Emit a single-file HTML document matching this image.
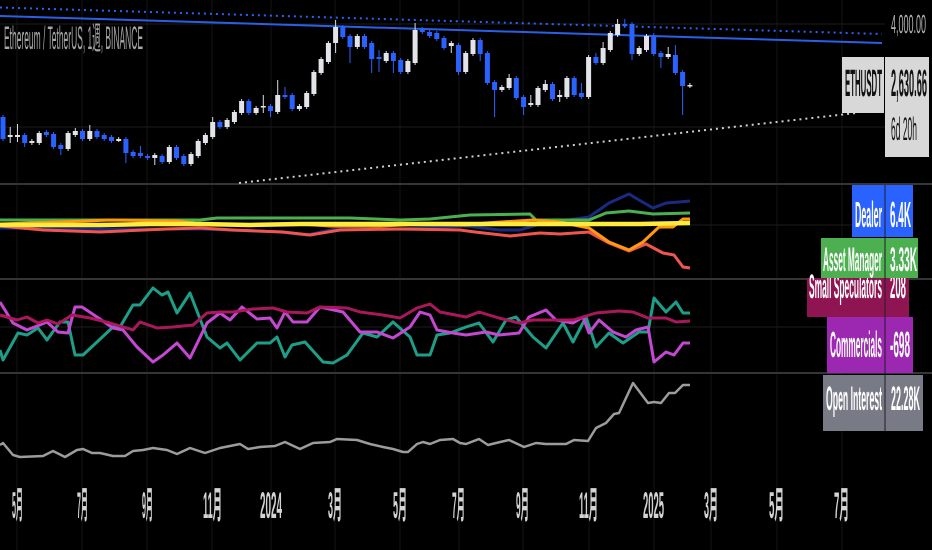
<!DOCTYPE html>
<html><head><meta charset="utf-8"><style>
html,body{margin:0;padding:0;background:#000;}
svg{display:block;}
text{font-family:"Liberation Sans","Noto Sans CJK JP",sans-serif;}
</style></head><body>
<svg width="932" height="550" viewBox="0 0 932 550" xmlns="http://www.w3.org/2000/svg">
<rect width="932" height="550" fill="#000"/>
<!-- grid -->
<g stroke="#151515" stroke-width="1">
<path d="M17 0V550M82 0V550M147 0V550M212 0V550M271 0V550M335 0V550M400 0V550M459 0V550M523 0V550M589 0V550M654 0V550M711 0V550M777 0V550M842 0V550"/>
</g>
<g stroke="#1c1c1c" stroke-width="1">
<path d="M0 24H885M0 127H885M0 225H885M0 327H885"/>
</g>
<!-- separators -->
<rect x="0" y="183" width="932" height="2" fill="#353535"/>
<rect x="0" y="278" width="932" height="2" fill="#353535"/>
<rect x="0" y="372" width="932" height="2" fill="#353535"/>

<!-- trend lines -->
<line x1="0" y1="7.5" x2="882" y2="34" stroke="#2962ff" stroke-width="2" stroke-dasharray="2 4"/>
<line x1="0" y1="16" x2="882" y2="43" stroke="#2a5fe8" stroke-width="2"/>
<line x1="239" y1="183" x2="856" y2="113" stroke="#cfcfcf" stroke-width="2" stroke-dasharray="2 4"/>

<!-- wicks -->
<path stroke="#2962ff" stroke-width="1" fill="none" d="M3 115V141M24.7 133V147M46.4 130V137M53.6 132V149M60.8 143V155M82.5 129V141M97 129V139M104.2 133V141M111.5 135V143M125.9 137V163M133.1 150V158M140.4 146V158M147.6 154V160M162.1 154V164M176.5 145V160M183.8 154V166M219.9 120V129M248.8 99V115M270.5 104V117M285 87V99M292.2 93V111M342.8 25V39M350 34V63M364.5 34V49M371.7 41V73M379 50V72M393.4 51V73M400.7 58V74M422.3 27V34M429.6 30V38M436.8 31V41M444 36V50M458.5 43V75M480.2 38V61M487.4 51V85M494.6 80V117M516.3 76V100M523.6 95V115M552.5 82V101M574.2 76V97M581.4 83V99M595.9 53V65M624.8 19V28M632 22V60M653.7 33V56M660.9 51V68M675.4 45V75M682.6 70V115"/>
<path stroke="#d8dbe2" stroke-width="1" fill="none" d="M10.2 127V143M17.5 124V142M31.9 139V145M39.2 131V145M68.1 131V151M75.3 128V137M89.8 125V141M118.7 137V142M154.8 153V165M169.3 145V164M191 152V166M198.2 139V158M205.4 133V145M212.7 117V139M227.1 118V129M234.4 110V124M241.6 99V115M256.1 106V115M263.3 95V113M277.7 80V114M299.4 104V111M306.7 91V109M313.9 70V96M321.1 57V75M328.4 41V64M335.6 20V53M357.3 34V49M386.2 51V63M407.9 59V74M415.1 23V65M451.3 41V53M465.7 51V74M473 38V56M501.9 85V92M509.1 74V90M530.8 95V107M538 86V107M545.3 80V92M559.7 90V102M566.9 76V99M588.6 55V99M603.1 42V65M610.3 31V52M617.6 19V37M639.2 46V56M646.5 34V52M668.2 47V59M689.9 83V88"/>
<!-- blue bodies -->
<g fill="#2962ff">
<rect x="0.5" y="117" width="5" height="22"/><rect x="22.2" y="135" width="5" height="8"/><rect x="43.9" y="132" width="5" height="3"/><rect x="51.1" y="134" width="5" height="13"/><rect x="58.3" y="145" width="5" height="4"/><rect x="80" y="131" width="5" height="8"/><rect x="94.5" y="131" width="5" height="6"/><rect x="101.7" y="135" width="5" height="4"/><rect x="109" y="137" width="5" height="4"/><rect x="123.4" y="139" width="5" height="14"/><rect x="130.6" y="152" width="5" height="4"/><rect x="137.9" y="153" width="5" height="3"/><rect x="145.1" y="156" width="5" height="2"/><rect x="159.6" y="156" width="5" height="6"/><rect x="174" y="147" width="5" height="11"/><rect x="181.3" y="156" width="5" height="8"/><rect x="217.4" y="122" width="5" height="5"/><rect x="246.3" y="101" width="5" height="12"/><rect x="268" y="106" width="5" height="5"/><rect x="282.5" y="95" width="5" height="2"/><rect x="289.7" y="95" width="5" height="14"/><rect x="340.3" y="27" width="5" height="10"/><rect x="347.5" y="36" width="5" height="11"/><rect x="362" y="36" width="5" height="11"/><rect x="369.2" y="43" width="5" height="16"/><rect x="376.5" y="57" width="5" height="2"/><rect x="390.9" y="53" width="5" height="8"/><rect x="398.2" y="60" width="5" height="12"/><rect x="419.8" y="29" width="5" height="3"/><rect x="427.1" y="32" width="5" height="4"/><rect x="434.3" y="33" width="5" height="6"/><rect x="441.5" y="38" width="5" height="10"/><rect x="456" y="45" width="5" height="27"/><rect x="477.7" y="40" width="5" height="14"/><rect x="484.9" y="53" width="5" height="30"/><rect x="492.1" y="82" width="5" height="8"/><rect x="513.8" y="78" width="5" height="20"/><rect x="521.1" y="97" width="5" height="10"/><rect x="550" y="84" width="5" height="15"/><rect x="571.7" y="78" width="5" height="17"/><rect x="578.9" y="93" width="5" height="4"/><rect x="593.4" y="57" width="5" height="6"/><rect x="622.3" y="24" width="5" height="2"/><rect x="629.5" y="24" width="5" height="30"/><rect x="651.2" y="36" width="5" height="18"/><rect x="658.4" y="53" width="5" height="4"/><rect x="672.9" y="55" width="5" height="18"/><rect x="680.1" y="72" width="5" height="14"/>
</g>
<!-- white bodies -->
<g fill="#e2e4ea">
<rect x="7.7" y="135" width="5" height="2"/><rect x="15" y="135" width="5" height="2"/><rect x="29.4" y="141" width="5" height="2"/><rect x="36.7" y="133" width="5" height="10"/><rect x="65.6" y="133" width="5" height="16"/><rect x="72.8" y="131" width="5" height="4"/><rect x="87.3" y="131" width="5" height="8"/><rect x="116.2" y="139" width="5" height="2"/><rect x="152.3" y="155" width="5" height="3"/><rect x="166.8" y="147" width="5" height="15"/><rect x="188.5" y="154" width="5" height="10"/><rect x="195.7" y="141" width="5" height="15"/><rect x="202.9" y="135" width="5" height="8"/><rect x="210.2" y="122" width="5" height="15"/><rect x="224.6" y="120" width="5" height="7"/><rect x="231.9" y="112" width="5" height="10"/><rect x="239.1" y="101" width="5" height="12"/><rect x="253.6" y="108" width="5" height="5"/><rect x="260.8" y="106" width="5" height="1.5"/><rect x="275.2" y="95" width="5" height="17"/><rect x="296.9" y="106" width="5" height="3"/><rect x="304.2" y="93" width="5" height="14"/><rect x="311.4" y="72" width="5" height="22"/><rect x="318.6" y="59" width="5" height="14"/><rect x="325.9" y="43" width="5" height="19"/><rect x="333.1" y="27" width="5" height="16"/><rect x="354.8" y="36" width="5" height="11"/><rect x="383.7" y="53" width="5" height="8"/><rect x="405.4" y="61" width="5" height="11"/><rect x="412.6" y="30" width="5" height="33"/><rect x="448.8" y="43" width="5" height="3"/><rect x="463.2" y="53" width="5" height="19"/><rect x="470.5" y="40" width="5" height="14"/><rect x="499.4" y="87" width="5" height="3"/><rect x="506.6" y="78" width="5" height="10"/><rect x="528.3" y="103" width="5" height="2"/><rect x="535.5" y="88" width="5" height="17"/><rect x="542.8" y="84" width="5" height="6"/><rect x="557.2" y="95" width="5" height="2"/><rect x="564.4" y="78" width="5" height="19"/><rect x="586.1" y="57" width="5" height="40"/><rect x="600.6" y="48" width="5" height="15"/><rect x="607.8" y="33" width="5" height="17"/><rect x="615.1" y="24" width="5" height="11"/><rect x="636.7" y="48" width="5" height="6"/><rect x="644" y="36" width="5" height="14"/><rect x="665.7" y="54" width="5" height="3"/><rect x="687.4" y="85" width="5" height="1.5"/>
</g>

<!-- title -->
<text x="4" y="49" font-size="32" fill="#a6a6a6" textLength="139" lengthAdjust="spacingAndGlyphs">Ethereum / TetherUS, 1週, BINANCE</text>
<text x="891" y="33" font-size="26" fill="#b4b4b4" textLength="35" lengthAdjust="spacingAndGlyphs">4,000.00</text>

<!-- price labels -->
<rect x="842" y="57" width="42" height="56" fill="#d8d8d8"/>
<rect x="885" y="57" width="44" height="100" fill="#d8d8d8"/>
<text x="845" y="96" font-size="38" font-weight="bold" fill="#111" textLength="37" lengthAdjust="spacingAndGlyphs">ETHUSDT</text>
<text x="891" y="96" font-size="38" font-weight="bold" fill="#111" textLength="36" lengthAdjust="spacingAndGlyphs">2,630.66</text>
<text x="891" y="140" font-size="32" fill="#111" textLength="26" lengthAdjust="spacingAndGlyphs">6d 20h</text>

<!-- pane 2 lines -->
<g fill="none" stroke-width="3" stroke-linejoin="round">
<polyline stroke="#1a2a80" points="0,228 100,229 200,229 280,232 307,235 340,228 360,228 400,229 466,226 500,230 520,230 540,224 589,217 609,203 629,194 639,200 653,208 666,203 679,202 690,201"/>
<polyline stroke="#f0554e" points="0,226 43,230 100,232 167,229 200,228 233,230 283,232 310,235 340,230 400,229 460,230 475,232 510,236 540,233 560,234 589,232 609,243 629,251 646,244 663,253 674,255 683,267 690,268"/>
<polyline stroke="#4caf50" points="0,220 100,220 200,220 217,218 300,218 350,218 400,220 430,219 470,215 530,214 536,220 589,220 606,213 629,211 653,214 690,213"/>
<polyline stroke="#ff9a10" points="0,224 60,222 110,220 177,221 200,224 250,225 300,224 330,226 380,226 420,224 466,225 486,223 533,220 559,222 589,228 609,242 629,250 643,242 659,227 673,227 683,219 690,219"/>
<polyline stroke="#ffeb3b" stroke-width="4.5" points="0,225 50,225 100,225 150,224 200,224 250,225 300,224 350,224 400,224 466,224 530,224 589,224 640,224 690,223"/>
</g>

<!-- pane 3 lines -->
<g fill="none" stroke-width="3" stroke-linejoin="round">
<polyline stroke="#1e9e88" points="0,350 3,360 18,333 27,335 38,328 47,340 60,322 68,322 75,355 83,355 97,342 113,327 120,327 133,305 140,305 153,288 162,295 168,292 177,313 190,293 207,337 220,348 227,343 240,360 257,343 270,343 277,337 285,357 292,345 305,342 323,362 333,363 347,355 363,333 377,337 393,322 410,337 417,355 430,355 437,335 450,333 466,327 479,323 493,342 506,320 516,317 533,337 546,348 563,323 573,342 586,317 596,347 609,333 623,343 639,332 648,332 654,298 666,312 676,302 683,313 690,313"/>
<polyline stroke="#c548d2" points="0,302 13,323 27,330 47,322 58,332 68,333 75,307 82,307 97,317 113,328 123,330 137,347 153,362 163,355 177,343 190,358 207,323 220,313 230,320 242,307 257,319 270,318 277,328 285,312 293,322 307,322 320,307 343,312 360,332 377,332 393,338 410,327 420,312 430,315 437,330 453,333 466,335 486,332 499,335 519,333 529,317 546,310 556,320 573,323 583,317 589,333 599,320 613,332 626,337 636,330 648,327 654,362 666,352 674,355 683,343 690,343"/>
<polyline stroke="#aa185c" points="0,315 17,320 27,317 38,323 47,320 58,324 72,315 90,318 110,323 133,330 140,322 157,328 173,327 193,325 207,313 220,312 233,312 253,309 273,308 287,312 307,313 320,307 347,308 360,312 383,315 400,318 417,308 430,304 440,312 466,317 479,312 499,318 519,323 533,320 553,320 573,320 596,313 619,311 633,312 648,318 666,318 676,322 690,321"/>
</g>

<!-- pane 4 OI -->
<polyline fill="none" stroke="#9c9c9c" stroke-width="2.5" stroke-linejoin="round" points="0,445 3,443 13,455 20,457 43,456 53,451 65,457 77,450 83,449 92,453 100,453 113,456 125,456 133,451 143,450 153,448 167,450 177,454 190,448 205,453 220,448 240,444 248,449 260,447 275,446 285,442 300,449 313,443 330,442 337,439 357,440 370,444 383,447 393,449 403,452 408,452 417,444 423,442 430,444 440,440 453,439 460,443 466,444 479,439 488,445 496,443 509,440 524,447 536,443 546,444 566,444 574,440 588,441 596,428 606,423 614,414 619,413 633,383 648,403 654,402 661,403 669,393 675,393 683,385 690,385"/>

<!-- indicator labels -->
<g font-weight="bold">
<rect x="827" y="317" width="86" height="56" fill="#9c27b0"/>
<text x="830" y="357" font-size="36" fill="#fff" textLength="52" lengthAdjust="spacingAndGlyphs">Commercials</text>
<text x="890" y="357" font-size="36" fill="#fff" textLength="20" lengthAdjust="spacingAndGlyphs">-698</text>

<rect x="807" y="278" width="102" height="39" fill="#8e1552"/>
<text x="809" y="298" font-size="34" fill="#fff" textLength="73" lengthAdjust="spacingAndGlyphs">Small Speculators</text>
<text x="890" y="298" font-size="34" fill="#fff" textLength="16" lengthAdjust="spacingAndGlyphs">208</text>

<rect x="821" y="238" width="97" height="40" fill="#4caf50"/>
<text x="823" y="271" font-size="34" fill="#fff" textLength="59" lengthAdjust="spacingAndGlyphs">Asset Manager</text>
<text x="890" y="271" font-size="34" fill="#fff" textLength="27" lengthAdjust="spacingAndGlyphs">3.33K</text>

<rect x="852" y="185" width="61" height="52" fill="#2962ff"/>
<text x="855" y="227" font-size="36" fill="#fff" textLength="27" lengthAdjust="spacingAndGlyphs">Dealer</text>
<text x="890" y="227" font-size="36" fill="#fff" textLength="21" lengthAdjust="spacingAndGlyphs">6.4K</text>

<rect x="823" y="375" width="100" height="56" fill="#787b86"/>
<text x="826" y="410" font-size="34" fill="#fff" textLength="56" lengthAdjust="spacingAndGlyphs">Open Interest</text>
<text x="891" y="410" font-size="34" fill="#fff" textLength="29" lengthAdjust="spacingAndGlyphs">22.28K</text>
</g>

<rect x="884.5" y="185" width="1" height="246" fill="#1e1e28"/>

<!-- x axis -->
<g fill="#d4d4d4" font-size="37" font-weight="bold">
<text x="12" y="518" textLength="11" lengthAdjust="spacingAndGlyphs">5月</text>
<text x="77" y="518" textLength="11" lengthAdjust="spacingAndGlyphs">7月</text>
<text x="142" y="518" textLength="11" lengthAdjust="spacingAndGlyphs">9月</text>
<text x="203" y="518" textLength="19" lengthAdjust="spacingAndGlyphs">11月</text>
<text x="260" y="518" textLength="22" lengthAdjust="spacingAndGlyphs">2024</text>
<text x="328" y="518" textLength="14" lengthAdjust="spacingAndGlyphs">3月</text>
<text x="393" y="518" textLength="14" lengthAdjust="spacingAndGlyphs">5月</text>
<text x="452" y="518" textLength="13" lengthAdjust="spacingAndGlyphs">7月</text>
<text x="516" y="518" textLength="13" lengthAdjust="spacingAndGlyphs">9月</text>
<text x="579" y="518" textLength="19" lengthAdjust="spacingAndGlyphs">11月</text>
<text x="643" y="518" textLength="21" lengthAdjust="spacingAndGlyphs">2025</text>
<text x="704" y="518" textLength="14" lengthAdjust="spacingAndGlyphs">3月</text>
<text x="769" y="518" textLength="15" lengthAdjust="spacingAndGlyphs">5月</text>
<text x="834" y="518" textLength="15" lengthAdjust="spacingAndGlyphs">7月</text>
</g>
</svg>
</body></html>
